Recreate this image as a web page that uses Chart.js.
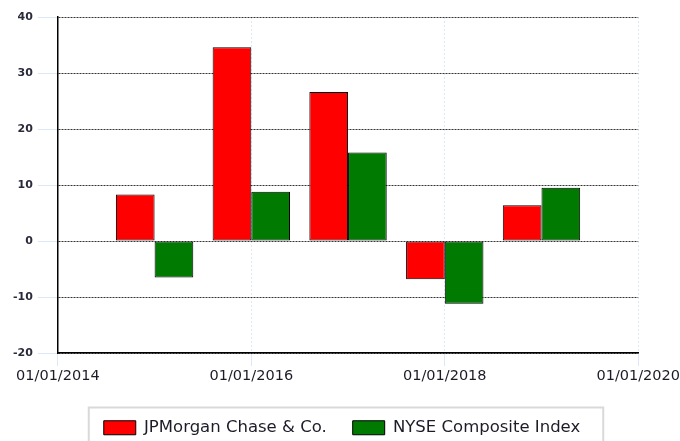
<!DOCTYPE html>
<html>
<head>
<meta charset="utf-8">
<script src="https://cdn.jsdelivr.net/npm/chart.js@4.4.1/dist/chart.umd.min.js"></script>
<style>
  html, body { margin: 0; padding: 0; background: #fff; }
  .frame { width: 680px; height: 441px; overflow: hidden; }
  .box { position: relative; width: 680px; height: 446px; }
</style>
</head>
<body>
<div class="frame"><div class="box"><canvas id="chart-bars"></canvas></div></div>
<script>
const chartBarBox = document.getElementById('chart-bars');

// Data (years as numbers, axis runs on a linear scale)
const years = [2015, 2016, 2017, 2018, 2019];
const jpmValues = [8.3, 34.6, 26.6, -6.8, 6.4];
const nyseValues = [-6.5, 8.8, 15.8, -11.2, 9.5];
const yTicks = [-20, -10, 0, 10, 20, 30, 40];
const xTicks = [2014, 2016, 2018, 2020];

const toPoints = (vals) => years.map((yr, i) => ({ x: yr, y: vals[i] }));

const chartBarData = {
  datasets: [
    {
      label: 'JPMorgan Chase & Co.',
      data: toPoints(jpmValues),
      backgroundColor: '#ff0000',
      borderColor: '#000000',
      borderWidth: 1,
      borderSkipped: false,
      categoryPercentage: 0.8,
      barPercentage: 1.0
    },
    {
      label: 'NYSE Composite Index',
      data: toPoints(nyseValues),
      backgroundColor: '#007a00',
      borderColor: '#000000',
      borderWidth: 1,
      borderSkipped: false,
      categoryPercentage: 0.8,
      barPercentage: 1.0
    }
  ]
};

// grey frame round the legend, drawn from the legend's own hit boxes
const legendFrame = {
  id: 'legendFrame',
  afterDraw(chart) {
    const boxes = chart.legend && chart.legend.legendHitBoxes;
    if (!boxes || !boxes.length) return;
    const first = boxes[0];
    const last = boxes[boxes.length - 1];
    const left = first.left - 15;
    const right = last.left + last.width + 23;
    const top = first.top - 12;
    const ctx = chart.ctx;
    ctx.save();
    ctx.strokeStyle = '#d9d9d9';
    ctx.lineWidth = 2;
    ctx.strokeRect(left, top, right - left, chart.height - top + 10);
    ctx.restore();
  }
};

const chartBarOptions = {
  responsive: true,
  maintainAspectRatio: false,
  animation: false,
  layout: { padding: { left: 8, right: 4, top: 17, bottom: 0 } },
  plugins: {
    legend: {
      position: 'bottom',
      labels: {
        boxWidth: 32,
        boxHeight: 14,
        padding: 26,
        color: '#1c1c28',
        font: { family: 'DejaVu Sans', size: 16.5 }
      }
    },
    tooltip: { enabled: false }
  },
  scales: {
    x: {
      type: 'linear',
      min: 2014,
      max: 2020,
      offset: false,
      afterBuildTicks: (axis) => { axis.ticks = xTicks.map(v => ({ value: v })); },
      afterFit: (axis) => {
        axis.height += 8;
        axis.paddingRight -= 1;
      },
      ticks: {
        color: '#1c1c28',
        padding: 1,
        maxRotation: 0,
        font: { family: 'DejaVu Sans', size: 14.5 },
        callback: (v) => '01/01/' + v
      },
      grid: {
        offset: false,
        color: '#dce8f5',
        tickColor: '#dce8f5',
        tickLength: 13
      },
      border: { color: '#000000', width: 1.5, dash: [2, 2] }
    },
    y: {
      min: -20,
      max: 40,
      afterBuildTicks: (axis) => { axis.ticks = yTicks.map(v => ({ value: v })); },
      ticks: {
        color: '#2a2a3a',
        padding: 5,
        font: { family: 'DejaVu Sans', size: 11, weight: 'bold' }
      },
      grid: {
        color: '#333333',
        tickColor: '#dce8f5',
        tickLength: 20
      },
      border: { color: '#000000', width: 1.5, dash: [2, 1] }
    }
  }
};

const chartBarInstance = new Chart(chartBarBox, {
  type: 'bar',
  data: chartBarData,
  options: chartBarOptions,
  plugins: [legendFrame]
});
</script>
</body>
</html>
